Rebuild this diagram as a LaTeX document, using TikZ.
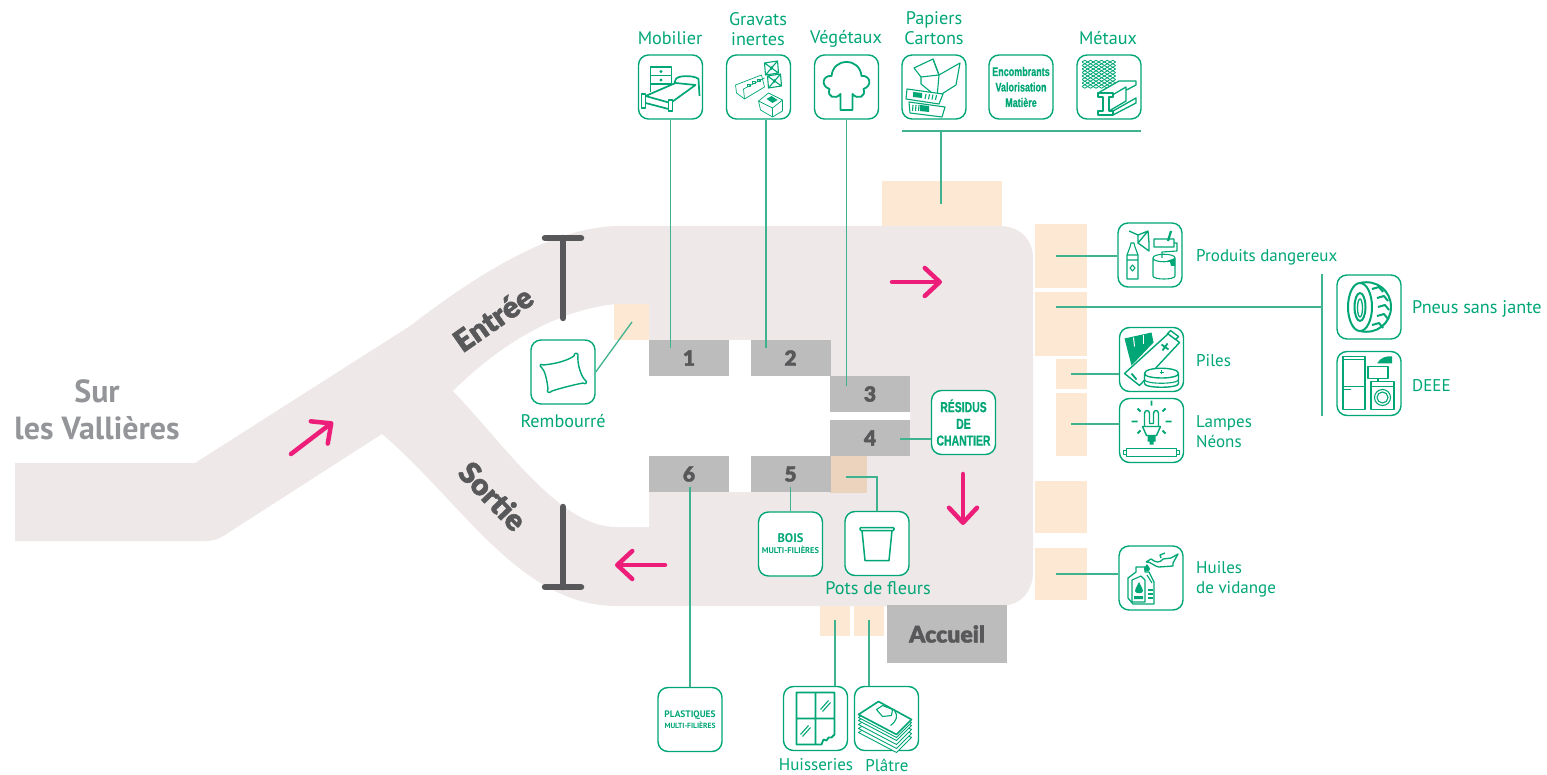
\documentclass[tikz,border=0pt]{standalone}
\usepackage{fontspec}
\setmainfont{PT Sans}
\newfontfamily\heavyfont[FakeBold=1.6]{Lato Black}
\newfontfamily\narrowfont[FakeStretch=0.72,FakeBold=0.6]{Liberation Sans Bold}
\usetikzlibrary{arrows.meta}
\definecolor{roadgrey}{HTML}{EEE8E8}
\definecolor{slotgrey}{HTML}{BCBCBC}
\definecolor{darkgrey}{HTML}{58585A}
\definecolor{midgrey}{HTML}{939598}
\definecolor{padorange}{HTML}{FDE8D3}
\definecolor{tgreen}{HTML}{00A676}
\definecolor{wiregreen}{HTML}{3FB28F}
\definecolor{hotpink}{HTML}{EC1E79}
\newcommand{\tagsize}{\fontsize{17}{20}\selectfont}
\newcommand{\bigsize}{\fontsize{18.2}{20}\selectfont}
\tikzstyle{iconbox}=[draw=tgreen,fill=white,line width=1.4pt,rounded corners=10pt,
                     inner sep=0pt,minimum width=64pt,minimum height=64pt,align=center,
                     text=tgreen]
\tikzstyle{slot}=[fill=slotgrey,inner sep=0pt,minimum width=80pt,minimum height=36pt,
                  text=darkgrey,font=\heavyfont\fontsize{21}{21}\selectfont]
\tikzstyle{greentag}=[text=tgreen,inner sep=0pt,align=left,font=\tagsize]
\tikzstyle{bigtag}=[greentag,font=\bigsize]
\tikzstyle{wire}=[draw=wiregreen,line width=1.3pt]
\tikzstyle{ink}=[draw=tgreen,line width=1.1pt,line join=round]
\tikzstyle{pad}=[fill=padorange]
\tikzstyle{gate}=[draw=darkgrey,line width=6.5pt,line cap=round]
\tikzstyle{flow}=[draw=hotpink,line width=4.5pt,line cap=round,
                  -{Straight Barb[length=15pt,width=28pt,round]}]
\begin{document}
\begin{tikzpicture}[x=1pt,y=-1pt]
  \useasboundingbox (0,0) rectangle (1547,775);
  % road
  \fill[roadgrey] (15,463) -- (195,463) -- (410,326)
    .. controls (470,280) and (550,226) .. (620,226) -- (1000,226)
    .. controls (1020,226) and (1033,240) .. (1033,258) -- (1033,572)
    .. controls (1033,592) and (1020,606) .. (1000,606) -- (616,606)
    .. controls (520,606) and (460,500) .. (382,434) -- (228,533)
    .. controls (220,539) and (213,541) .. (206,541) -- (15,541) -- cycle;
  \fill[white] (453,391) .. controls (505,340) and (560,310) .. (616,304)
    -- (649,304) -- (649,340) -- (830,340) -- (830,456) -- (751,456) -- (751,492)
    -- (729,492) -- (729,456) -- (649,456) -- (649,527) -- (616,527)
    .. controls (560,527) and (505,445) .. (453,391) -- cycle
    (830,412) rectangle (910,420);
  % storage pads
  \fill[pad] (882,181) rectangle (1002,226);
  \fill[pad] (1035,224) rectangle (1087,288);
  \fill[pad] (1035,292) rectangle (1087,356);
  \fill[pad] (1056,359) rectangle (1087,389);
  \fill[pad] (1056,393) rectangle (1087,456);
  \fill[pad] (1035,481) rectangle (1087,533);
  \fill[pad] (1035,548) rectangle (1087,600);
  \fill[pad] (614,304) rectangle (649,340);
  \fill[pad] (820,606) rectangle (850,636);
  \fill[pad] (854,606) rectangle (884,636);
  \fill[orange!60!brown,opacity=0.2] (830,456) rectangle (867,493);
  % numbered bays
  \node (bay1) at (689,358) [slot]{1};
  \node (bay2) at (790.5,358) [slot]{2};
  \node (bay3) at (870,394) [slot]{3};
  \node (bay4) at (870,438) [slot]{4};
  \node (bay5) at (790.5,474) [slot]{5};
  \node (bay6) at (689,474) [slot]{6};
  \node (accueil) at (947,634) [slot,minimum width=120pt,minimum height=58pt,
        font=\heavyfont\fontsize{23}{23}\selectfont]{Accueil};
  % gates and flow arrows
  \draw[gate] (563,238) -- (563,318) (545,238) -- (581,238);
  \draw[gate] (563,507) -- (563,587) (545,587) -- (581,587);
  \draw[flow] (892,282) -- (942,282);
  \draw[flow] (963,474) -- (963,525);
  \draw[flow] (665,565) -- (615,565);
  \draw[flow] (291,454) -- (333,422);
  \node (entree) at (493,319) [rotate=35,text=darkgrey,inner sep=0pt,
        font=\heavyfont\fontsize{30}{30}\selectfont]{Entrée};
  \node (sortie) at (493,496) [rotate=-46,text=darkgrey,inner sep=0pt,
        font=\heavyfont\fontsize{30}{30}\selectfont]{Sortie};
  \node (vallieres) at (97,410) [text=midgrey,align=center,inner sep=0pt,
        font=\bfseries\fontsize{32}{37}\selectfont]{Sur\\les Vallières};
  % icons
  \node (mobilier) at (670.5,87) [iconbox]{};
  \node (gravats) at (758.5,87) [iconbox]{};
  \node (vegetaux) at (846.5,87) [iconbox]{};
  \node (papiers) at (934,87) [iconbox]{};
  \node (encombrants) at (1021,87) [iconbox,font=\narrowfont\fontsize{12.5}{15.5}\selectfont]
        {Encombrants\\Valorisation\\Matière};
  \node (metaux) at (1109,87) [iconbox]{};
  \node (produits) at (1150,255) [iconbox]{};
  \node (pneus) at (1369,307) [iconbox]{};
  \node (deee) at (1369,383.5) [iconbox]{};
  \node (piles) at (1151.5,359.5) [iconbox]{};
  \node (lampes) at (1151.5,430.5) [iconbox]{};
  \node (huiles) at (1151,578) [iconbox]{};
  \node (residus) at (963.5,422.5) [iconbox,font=\narrowfont\fontsize{14.5}{16.7}\selectfont]
        {RÉSIDUS\\DE\\CHANTIER};
  \node (bois) at (790.5,544) [iconbox,font=\bfseries\fontsize{12.5}{12}\selectfont]
        {BOIS\\[-1pt]{\fontsize{8.4}{8}\selectfont MULTI-FILIÈRES}};
  \node (pots) at (877,543.5) [iconbox]{};
  \node (rembourre) at (563,372) [iconbox]{};
  \node (plastiques) at (690,719.5) [iconbox,font=\bfseries\fontsize{9.4}{11}\selectfont]
        {PLASTIQUES\\{\fontsize{7.5}{8}\selectfont MULTI-FILIÈRES}};
  \node (huisseries) at (815.5,718.5) [iconbox]{};
  \node (platre) at (886.5,718.5) [iconbox]{};
  % labels
  \node (tmobilier) at (670,38) [bigtag]{Mobilier};
  \node (tgravats) at (758,29.5) [bigtag,align=center]{Gravats\\inertes};
  \node (tvegetaux) at (846,38.5) [bigtag]{Végétaux};
  \node (tpapiers) at (934,28.5) [bigtag,align=center]{Papiers\\Cartons};
  \node (tmetaux) at (1108,38) [bigtag]{Métaux};
  \node (tproduits) at (1196,257) [greentag,anchor=west]{Produits dangereux};
  \node (tpneus) at (1412,309) [bigtag,anchor=west]{Pneus sans jante};
  \node (tdeee) at (1412,386) [greentag,anchor=west]{DEEE};
  \node (tpiles) at (1196,361) [greentag,anchor=west]{Piles};
  \node (tlampes) at (1196,432) [greentag,anchor=west]{Lampes\\Néons};
  \node (thuiles) at (1196,579) [greentag,anchor=west]{Huiles\\de vidange};
  \node (tpots) at (878,588) [bigtag]{Pots de fleurs};
  \node (trembourre) at (563,421) [bigtag]{Rembourré};
  \node (thuisseries) at (816,765) [greentag]{Huisseries};
  \node (tplatre) at (887,765) [greentag]{Plâtre};
  % connectors
  \coordinate (in1) at (670.5,348);
  \coordinate (in2) at (766,348);
  \coordinate (in3) at (846.5,386);
  \coordinate (in4) at (900,439);
  \coordinate (in5) at (790.5,487);
  \coordinate (in6) at (690,487);
  \coordinate (inpots) at (846,477);
  \coordinate (rail) at (941,131);
  \coordinate (railw) at (902,131);
  \coordinate (raile) at (1141,131);
  \coordinate (intop) at (941,204);
  \coordinate (inproduits) at (1056,256);
  \coordinate (inpneus) at (1056,307);
  \coordinate (split) at (1322,307);
  \coordinate (splitn) at (1322,274);
  \coordinate (splits) at (1322,416);
  \coordinate (inpiles) at (1071,374);
  \coordinate (inlampes) at (1071,424);
  \coordinate (inhuiles) at (1056,574);
  \coordinate (inrembourre) at (632,322);
  \coordinate (inhuisseries) at (835,620);
  \coordinate (inplatre) at (869,620);
  \draw[wire] (mobilier.south) -- (in1);
  \draw[wire] (in2 |- gravats.south) -- (in2);
  \draw[wire] (vegetaux.south) -- (in3);
  \draw[wire] (in4) -- (in4 -| residus.west);
  \draw[wire] (in5) -- (bois.north);
  \draw[wire] (in6) -- (plastiques.north);
  \draw[wire] (inpots) -- (inpots -| pots.north) -- (pots.north);
  \draw[wire] (railw) -- (raile) (rail) -- (intop);
  \draw[wire] (inproduits) -- (inproduits -| produits.west);
  \draw[wire] (inpneus) -- (split) (splitn) -- (splits);
  \draw[wire] (inpiles) -- (inpiles -| piles.west);
  \draw[wire] (inlampes) -- (inlampes -| lampes.west);
  \draw[wire] (inhuiles) -- (inhuiles -| huiles.west);
  \draw[wire] (inrembourre) -- (rembourre.east);
  \draw[wire] (inhuisseries) -- (inhuisseries |- huisseries.north);
  \draw[wire] (inplatre) -- (inplatre |- platre.north);
  % bed and chest
  \begin{scope}[shift={(mobilier)},ink/.append style={line width=1.7pt}]
    \draw[ink] (-20,-3) rectangle (1,-20) (-20,-11.5) -- (1,-11.5) (-20,-3) -- (-20,5) (1,-3) -- (1,0);
    \fill[tgreen] (-9.5,-15.5) circle (1.6) (-9.5,-7) circle (1.6);
    \draw[ink,fill=white] (-25,9) -- (5,-4) -- (25,-2) -- (0,16) -- cycle;
    \draw[ink] (5,-7) .. controls (5,-12) and (24,-12) .. (28,-8) -- (29,9) (4,-4) -- (5,-7);
    \draw[ink,fill=white] (-29,7) rectangle (-25,21) (-2,13) rectangle (2,24);
    \draw[ink] (-25,16) -- (-2,22);
  \end{scope}
  % rubble blocks
  \begin{scope}[shift={(gravats)},ink/.append style={line width=0.7pt}]
    \draw[ink] (-23,-2) -- (3,-12) -- (6,0) -- (-14,12) -- (-22,6) -- cycle (-14,12) -- (-15,2) -- (6,-9);
    \foreach \i in {0,1,2} \draw[ink] (-11+5*\i,-1-2.5*\i) rectangle ++(3,-2);
    \draw[ink] (0,14) -- (10,6) -- (24,13) -- (24,24) -- (14,30) -- (2,23) -- cycle (0,14) -- (14,21) -- (24,13) (14,21) -- (14,30);
    \fill[tgreen] (8,12) -- (13,9) -- (19,13) -- (14,16) -- cycle;
    \foreach \cx/\cy in {13/-19,16/-6} {
      \draw[ink,line width=1.1pt] (\cx-7,\cy-5) -- (\cx+6,\cy-7) -- (\cx+7,\cy+5) -- (\cx-6,\cy+7) -- cycle
        (\cx-7,\cy-5) -- (\cx+7,\cy+5) (\cx+6,\cy-7) -- (\cx-6,\cy+7);
      \fill[tgreen] (\cx,\cy) circle (1.8);
    }
  \end{scope}
  % tree
  \begin{scope}[shift={(vegetaux)}]
    \draw[ink,line width=1.8pt] (-6,23) -- (-6,7) .. controls (-11,13) and (-20,10) .. (-17,2)
      .. controls (-26,-1) and (-24,-12) .. (-15,-11) .. controls (-14,-20) and (-8,-25) .. (0,-25)
      .. controls (8,-25) and (14,-20) .. (15,-11) .. controls (24,-12) and (26,-1) .. (17,2)
      .. controls (20,10) and (11,13) .. (6,7) -- (6,23) -- cycle;
  \end{scope}
  % box and papers
  \begin{scope}[shift={(papiers)}]
    \draw[ink] (-20,-19) -- (-1,-28) -- (5,-12) -- (26,-24) -- (22,-2) -- (3,10) -- (-13,-3) -- (-13,-10) -- cycle;
    \draw[ink] (-13,-10) -- (5,-12) -- (3,10) (5,-12) -- (-1,-28);
    \draw[ink,fill=white] (-27,2) -- (9,7) -- (5,17) -- (-28,12) -- cycle;
    \draw[ink,fill=white] (-25,15) -- (11,20) -- (8,30) -- (-24,26) -- cycle;
    \fill[tgreen] (-21,5) -- (-12,6) -- (-12,11) -- (-21,10) -- cycle (-14,18) -- (-5,19) -- (-5,25) -- (-14,24) -- cycle;
    \foreach \i in {0,1,2,3} \draw[ink] (-8+3.5*\i,7+0.3*\i) -- (-9+3.5*\i,12+0.3*\i) (-21+3*\i,18) -- (-21.5+3*\i,24);
  \end{scope}
  % mesh and steel beam
  \begin{scope}[shift={(metaux)}]
    \foreach \i in {0,...,7} \draw[ink,line width=0.8pt] (-27,-25+3.5*\i) \foreach \j in {0,...,5} { -- ++(2.8,-1.75) -- ++(2.8,1.75) };
    \foreach \i in {0,...,7} \draw[ink,line width=0.8pt] (-27,-25+3.5*\i) \foreach \j in {0,...,5} { -- ++(2.8,1.75) -- ++(2.8,-1.75) };
    \draw[ink,line width=1.3pt,fill=white] (-11,6) -- (10,-6) -- (27,-6) -- (27,-2) -- (4,10) -- (4,6) -- (-11,6);
    \draw[ink,line width=1.3pt,fill=white] (0,10) -- (17,0) -- (17,14) -- (0,24) -- cycle;
    \draw[ink,line width=1.3pt,fill=white] (4,24) -- (27,11) -- (27,16) -- (4,28) -- cycle;
    \draw[ink,line width=1.3pt,fill=white] (-11,6) -- (4,6) -- (4,10) -- (0,10) -- (0,24) -- (4,24) -- (4,28) -- (-11,28) -- (-11,24) -- (-6,24) -- (-6,10) -- (-11,10) -- cycle;
  \end{scope}
  % paint and bottle
  \begin{scope}[shift={(produits)}]
    \draw[ink] (-23,24) rectangle (-12,0) (-23,0) -- (-20,-8) -- (-19,-12) -- (-16,-12) -- (-15,-8) -- (-12,0) (-23,5) -- (-12,5);
    \draw[ink] (-20,13) -- (-17.5,10) -- (-15,13) -- (-17.5,16) -- cycle;
    \draw[ink,line width=1.3pt] (-21,-24) -- (-12,-20) -- (-2,-24) -- (-1,-12) (-2,-24) -- (-12,-12) -- (-1,-4) -- (-1,-12) (-12,-20) -- (-12,-12);
    \draw[ink,line width=2.2pt] (18,-14) -- (21,-24);
    \draw[ink] (4,-16) rectangle (24,-8) (24,-12) -- (27,-12) -- (27,-4) -- (12,-3) -- (12,3);
    \draw[ink] (3,3) -- (3,21) .. controls (3,25) and (25,25) .. (25,21) -- (25,3) (3,3) .. controls (3,-2) and (25,-2) .. (25,3) .. controls (25,8) and (3,8) .. (3,3);
    \fill[tgreen] (14,7) -- (25,3) -- (25,11) -- (21,11) -- (20,7) -- cycle;
  \end{scope}
  % tyre
  \begin{scope}[shift={(pneus)},ink/.append style={line width=2pt}]
    \draw[ink] (-9,0) ellipse (12 and 24);
    \draw[ink] (-9,0) ellipse (5.5 and 14);
    \draw[ink,line width=1.3pt] (-9,1) ellipse (2.5 and 9);
    \draw[ink] (-9,-24) .. controls (8,-28) and (22,-16) .. (22,0) .. controls (22,16) and (8,28) .. (-9,24);
    \foreach \yy/\xx in {-18/12,-9/17,0/18,9/17,18/12} \draw[ink] (\xx-9,\yy) -- (\xx-2,\yy-2) -- (\xx+2,\yy+3);
  \end{scope}
  % fridge, iron, screen and washer
  \begin{scope}[shift={(deee)}]
    \draw[ink] (-26,-27) rectangle (-4,26) (-26,3) -- (-4,3) (-26,-24) -- (-4,-24) (-26,6) -- (-18,6);
    \draw[ink] (2,-2) rectangle (25,26) (2,3) -- (25,3);
    \draw[ink] (13.5,14) circle (8) (13.5,14) circle (5.5);
    \draw[ink] (-1,-17) rectangle (19,-5) (9,-5) -- (9,-2);
    \fill[tgreen] (8,-20) .. controls (11,-26) and (18,-28) .. (23,-27) -- (23,-20) -- cycle;
  \end{scope}
  % batteries
  \begin{scope}[shift={(piles)}]
    \fill[tgreen] (-27,-21) -- (0,-27) -- (2,-17) -- (-20,6) -- cycle;
    \foreach \i in {0,1} \draw[white,line width=1pt] (-18+10*\i,-22-2*\i) -- (-17+9*\i,-13-2*\i);
    \draw[ink,line width=1.4pt,fill=white] (-27,14) -- (17,-26) -- (28,-17) -- (-12,26) -- cycle;
    \draw[ink,line width=1.4pt,fill=white] (19,-29) -- (27,-23) -- (24,-20) -- (16,-26) -- cycle;
    \draw[tgreen,line width=1.8pt] (10,-15) -- (17,-10) (16,-16) -- (11,-9) (-20,14) -- (-15,20);
    \draw[ink,line width=1.4pt,fill=white] (-7,14) -- (-7,24) .. controls (-7,29) and (27,29) .. (27,24) -- (27,14) .. controls (27,7) and (-7,7) .. (-7,14) .. controls (-7,20) and (27,20) .. (27,14);
    \draw[ink] (-7,20) .. controls (-7,25) and (27,25) .. (27,20);
    \draw[ink] (8,13) -- (12,13) (10,11) -- (10,15);
  \end{scope}
  % bulb and tube
  \begin{scope}[shift={(lampes)}]
    \draw[ink,line width=1.4pt] (-7,-4) -- (-7,-17) .. controls (-7,-21) and (-2,-21) .. (-2,-17) -- (-2,-7) -- (2,-7) -- (2,-17) .. controls (2,-21) and (7,-21) .. (7,-17) -- (7,-4);
    \draw[ink,line width=1.4pt] (-9,-4) -- (9,-4) -- (5,5) -- (-5,5) -- cycle;
    \fill[tgreen] (-4,5) rectangle (4,11) (-2,11) rectangle (2,14);
    \draw[tgreen,line width=1.8pt] (0,-30) -- (0,-25) (-20,-9) -- (-14,-9) (14,-9) -- (20,-9)
      (-14,-22) -- (-11,-19) (14,-22) -- (11,-19) (-14,3) -- (-11,0) (14,3) -- (11,0);
    \draw[ink,line width=1.4pt] (-25,18) rectangle (25,26) (-28,20) rectangle (-25,24) (25,20) rectangle (28,24);
  \end{scope}
  % oil jug and can
  \begin{scope}[shift={(huiles)}]
    \draw[ink,line width=1.3pt] (-18,26) -- (-23,20) -- (-23,0) -- (-15,-6) -- (-15,-11) -- (-6,-11) -- (-6,-6) -- (-2,-6) -- (3,4) -- (3,26) -- cycle;
    \draw[ink] (-19,24) -- (-19,2) -- (-10,-2) -- (-6,2) -- (-6,24) -- cycle (-4,-3) -- (1,5);
    \fill[tgreen] (-12,4) .. controls (-9,10) and (-8,11) .. (-8,13) .. controls (-8,16) and (-16,16) .. (-16,13) .. controls (-16,11) and (-15,10) .. (-12,4) -- cycle (-17,18) rectangle (-8,21);
    \foreach \yy in {12,16,20} \draw[ink] (-3,\yy) -- (2,\yy);
    \draw[ink,line width=1.3pt] (-5,-16) -- (0,-19) .. controls (5,-15) and (9,-15) .. (12,-19) -- (20,-20) -- (27,-24) -- (22,-15) -- (22,-12) -- (8,-11) .. controls (4,-11) and (-1,-17) .. (-5,-16) (10,-20) -- (9,-23) -- (14,-25);
    \fill[tgreen] (-4,-14) .. controls (-2,-11) and (-1,-10) .. (-1,-9) .. controls (-1,-6) and (-7,-6) .. (-7,-9) .. controls (-7,-10) and (-6,-11) .. (-4,-14) -- cycle;
  \end{scope}
  % pot
  \begin{scope}[shift={(pots)}]
    \draw[ink,line width=1.5pt,rounded corners=1pt] (-17,-16) rectangle (17,-13);
    \draw[ink,line width=1.5pt] (-15,-13) -- (-12,17) -- (12,17) -- (15,-13);
  \end{scope}
  % pillow
  \begin{scope}[shift={(rembourre)}]
    \draw[ink,line width=1.4pt] (-20,-7) .. controls (-10,-8) and (2,-10) .. (11,-16) .. controls (11,-19) and (14,-20) .. (15,-17)
      .. controls (14,-8) and (18,4) .. (22,8) .. controls (25,10) and (23,13) .. (20,11)
      .. controls (10,13) and (-2,16) .. (-11,19) .. controls (-14,22) and (-17,20) .. (-15,17)
      .. controls (-16,8) and (-18,-1) .. (-21,-4) .. controls (-24,-6) and (-23,-9) .. (-20,-7) -- cycle;
  \end{scope}
  % window
  \begin{scope}[shift={(huisseries)}]
    \draw[ink,line width=1.8pt] (19,16) -- (19,-26) -- (-19,-26) -- (-19,26) -- (6,26) -- (8,21) -- (11,22) -- (13,19) -- (16,19) -- cycle (0,-26) -- (0,26) (-19,0) -- (19,0);
    \draw[ink] (5,-9) -- (13,-18) (7,-7) -- (15,-16) (-15,16) -- (-7,7) (-13,18) -- (-5,9);
  \end{scope}
  % plaster boards
  \begin{scope}[shift={(platre)}]
    \foreach \dd in {18,14,10,6,3} \draw[ink,line width=0.9pt,fill=white] (-28,-4+\dd) -- (-8,-17+\dd) -- (25,1+\dd) -- (10,16+\dd) -- cycle;
    \draw[ink,line width=1.6pt,fill=white] (-28,-4) -- (-8,-17) -- (25,1) -- (10,16) -- cycle;
    \draw[ink] (-10,-9) -- (-4,-13) -- (6,-9) -- (5,-3) -- (-4,-2) -- cycle (8,-8) .. controls (12,-3) and (10,3) .. (4,7);
  \end{scope}
\end{tikzpicture}
\end{document}
